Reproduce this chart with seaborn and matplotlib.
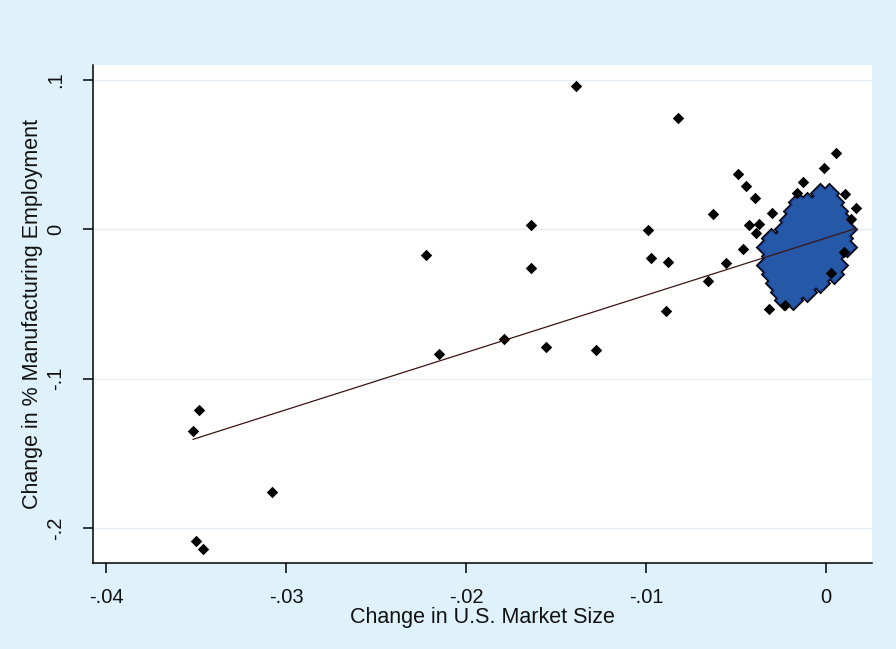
import matplotlib
matplotlib.use("Agg")
import matplotlib.pyplot as plt
import seaborn as sns
import pandas as pd

# Scattered industries (x: change in U.S. market size, y: change in % manufacturing employment)
point_x = [-0.01389, -0.00822, -0.0222, -0.01639, -0.01639, -0.00989, -0.00972, -0.00878,
           -0.00889, -0.0215, -0.01789, -0.01556, -0.01278, -0.00628, -0.00656, -0.03483,
           -0.03517, -0.03078, -0.0350, -0.03461, -0.00489, -0.00444, -0.00394, -0.00461,
           -0.00556, -0.00317, -0.00228, 0.00056, -0.0001, -0.0013, -0.0016, 0.00106,
           0.00167, 0.0014, -0.0030, -0.0043, -0.0037, -0.0039, 0.0003, 0.0010]
point_y = [0.0957, 0.0742, -0.0174, 0.0027, -0.0261, -0.0007, -0.0194, -0.0221,
           -0.0548, -0.0836, -0.0736, -0.0789, -0.0809, 0.0100, -0.0348, -0.1211,
           -0.1351, -0.1759, -0.2087, -0.2140, 0.0368, 0.0288, 0.0207, -0.0134,
           -0.0227, -0.0535, -0.0508, 0.0508, 0.0408, 0.0314, 0.0240, 0.0234,
           0.0140, 0.0067, 0.0107, 0.0027, 0.0033, -0.0027, -0.0294, -0.0154]

# Dense group of industries near zero, listed row by row (y, x values)
cluster_rows = [
    (0.0241, [-0.00033, 0.00017]),
    (0.0181, [-0.00156, -0.00106, -0.00056, -0.00006, 0.00044]),
    (0.0120, [-0.00183, -0.00133, -0.00083, -0.00033, 0.00017, 0.00067]),
    (0.0060, [-0.00206, -0.00156, -0.00106, -0.00056, -0.00006, 0.00044, 0.00094]),
    (0.0000, [-0.00233, -0.00183, -0.00133, -0.00083, -0.00033, 0.00017, 0.00067, 0.00117]),
    (-0.0060, [-0.00306, -0.00256, -0.00206, -0.00156, -0.00106, -0.00056, -0.00006, 0.00044, 0.00094]),
    (-0.0120, [-0.00333, -0.00283, -0.00233, -0.00183, -0.00133, -0.00083, -0.00033, 0.00017, 0.00067, 0.00117]),
    (-0.0181, [-0.00306, -0.00256, -0.00206, -0.00156, -0.00106, -0.00056, -0.00006, 0.00044]),
    (-0.0241, [-0.00333, -0.00283, -0.00233, -0.00183, -0.00133, -0.00083, -0.00033, 0.00017, 0.00067]),
    (-0.0301, [-0.00306, -0.00256, -0.00206, -0.00156, -0.00106, -0.00056, -0.00006, 0.00044]),
    (-0.0361, [-0.00283, -0.00233, -0.00183, -0.00133, -0.00083, -0.00033]),
    (-0.0421, [-0.00256, -0.00206, -0.00156, -0.00106]),
    (-0.0475, [-0.00233, -0.00183]),
]

# Linear fit
fit_intercept = -0.006
fit_slope = 3.83

x_ticks = [-0.04, -0.03, -0.02, -0.01, 0.0]
x_tick_labels = ["-.04", "-.03", "-.02", "-.01", "0"]
y_ticks = [-0.2, -0.1, 0.0, 0.1]
y_tick_labels = ["-.2", "-.1", "0", ".1"]

x_title = "Change in U.S. Market Size"
y_title = "Change in % Manufacturing Employment"

points = pd.DataFrame({"x": point_x, "y": point_y})
cluster = pd.DataFrame(
    [(x, y) for y, xs in cluster_rows for x in xs], columns=["x", "y"]
)
all_x = pd.concat([points["x"], cluster["x"]])

sns.set_theme(style="white")
plt.rcParams["font.family"] = ["Liberation Sans", "DejaVu Sans"]

bg = "#dff2fb"
fig = plt.figure(figsize=(8.96, 6.49), dpi=100, facecolor=bg)
ax = fig.add_axes([0.1038, 0.1325, 0.8694, 0.7673])
ax.set_facecolor("white")

# gridlines
for yt in y_ticks:
    ax.axhline(yt, color="#e4edf3", lw=1.0, zorder=0)

# dense group: black rim, navy ring, blue core
sns.scatterplot(data=cluster, x="x", y="y", marker="D", s=122, color="black",
                linewidth=0, ax=ax, zorder=2)
sns.scatterplot(data=cluster, x="x", y="y", marker="D", s=84, color="#17327e",
                linewidth=0, ax=ax, zorder=3)
sns.scatterplot(data=cluster, x="x", y="y", marker="D", s=60, color="#2559a8",
                linewidth=0, ax=ax, zorder=4)

# individual points
sns.scatterplot(data=points, x="x", y="y", marker="D", s=34, color="black",
                linewidth=0, ax=ax, zorder=5)

# fitted line over the data range
x0, x1 = all_x.min(), all_x.max()
ax.plot([x0, x1], [fit_intercept + fit_slope * x0, fit_intercept + fit_slope * x1],
        color="#3d1414", lw=0.9, zorder=6)

ax.set_xlim(-0.04072, 0.002556)
ax.set_ylim(-0.2234, 0.1097)

ax.set_xticks(x_ticks)
ax.set_xticklabels(x_tick_labels)
ax.set_yticks(y_ticks)
ax.set_yticklabels(y_tick_labels, rotation=90, va="center")

ax.tick_params(axis="both", direction="out", length=7, width=1.1, color="black",
               labelsize=14.5, labelcolor="#111111", bottom=True, left=True)
ax.tick_params(axis="x", pad=11)
ax.tick_params(axis="y", pad=13)

for side in ["top", "right"]:
    ax.spines[side].set_visible(False)
for side in ["left", "bottom"]:
    ax.spines[side].set_visible(True)
    ax.spines[side].set_color("black")
    ax.spines[side].set_linewidth(1.1)

ax.set_xlabel(x_title, fontsize=15.5, color="#111111", labelpad=0)
ax.set_ylabel(y_title, fontsize=15.5, color="#111111", labelpad=2)

fig.savefig("out.png", dpi=100, facecolor=bg)
